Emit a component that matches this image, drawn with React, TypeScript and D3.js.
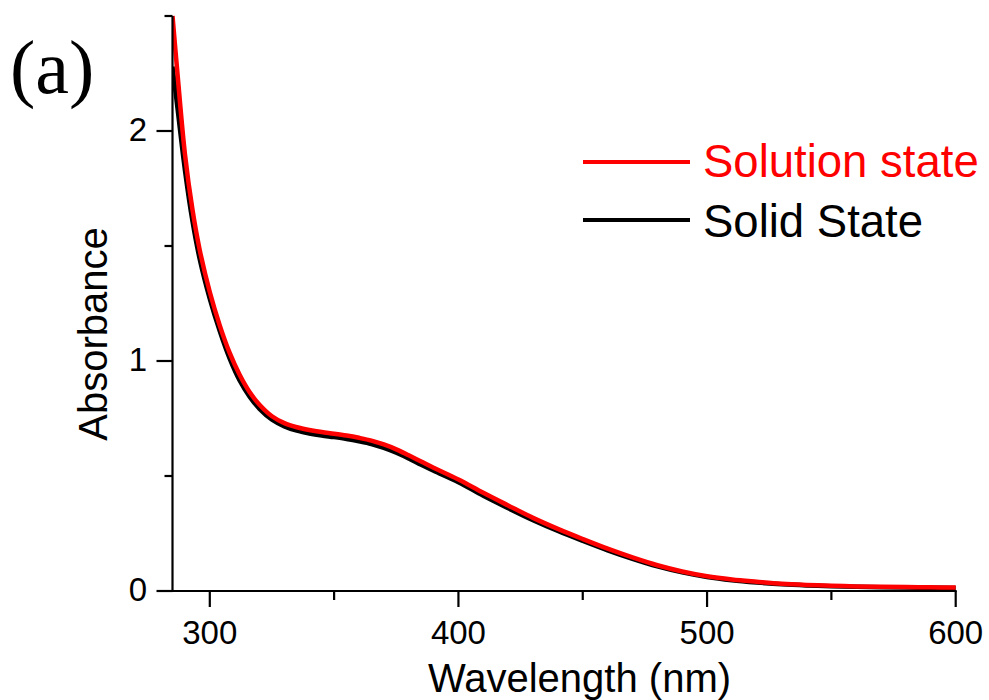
import React from "react";
import * as d3 from "d3";

const wavelengths = [285, 287, 290, 293, 296, 300, 304, 308, 312, 316, 320, 325, 330, 335, 340, 345, 350, 355, 360, 365, 370, 375, 380, 385, 390, 400, 410, 420, 430, 440, 450, 460, 470, 480, 490, 500, 510, 520, 530, 540, 550, 560, 570, 580, 590, 600];

const solutionState = [2.5, 2.25, 1.9, 1.66, 1.48, 1.3, 1.155, 1.035, 0.94, 0.865, 0.81, 0.76, 0.73, 0.712, 0.7, 0.691, 0.684, 0.676, 0.666, 0.654, 0.637, 0.616, 0.59, 0.563, 0.536, 0.485, 0.427, 0.372, 0.318, 0.27, 0.226, 0.184, 0.146, 0.112, 0.085, 0.064, 0.05, 0.04, 0.031, 0.026, 0.023, 0.02, 0.018, 0.017, 0.016, 0.015];

const solidState = [2.28, 2.1, 1.83, 1.61, 1.44, 1.27, 1.13, 1.01, 0.915, 0.845, 0.792, 0.745, 0.716, 0.697, 0.685, 0.676, 0.669, 0.661, 0.651, 0.639, 0.622, 0.601, 0.576, 0.549, 0.523, 0.473, 0.414, 0.36, 0.308, 0.261, 0.218, 0.177, 0.14, 0.107, 0.081, 0.061, 0.047, 0.037, 0.029, 0.024, 0.021, 0.018, 0.016, 0.015, 0.014, 0.013];

const xMajorTicks = [300, 400, 500, 600];
const xMinorTicks = [350, 450, 550];
const yMajorTicks = [0, 1, 2];
const yMinorTicks = [0.5, 1.5, 2.5];

const seriesNames = ["Solution state", "Solid State"];
const seriesColors = ["#ff0000", "#000000"];

const FONT = "'Liberation Sans', Arial, sans-serif";

export default function App() {
  const W = 989;
  const H = 700;
  const left = 172.5;
  const right = 955.7;
  const top = 16;
  const bottom = 591;

  const x = d3.scaleLinear().domain([285, 600]).range([left, right]);
  const y = d3.scaleLinear().domain([0, 2.5]).range([bottom, top]);

  const line = d3
    .line<number>()
    .x((_, i) => x(wavelengths[i]))
    .y((d) => y(d))
    .curve(d3.curveCatmullRom.alpha(0.5));

  const solidPath = line(solidState) || "";
  const solutionPath = line(solutionState) || "";

  return (
    <svg
      width={W}
      height={H}
      style={{ position: "absolute", left: 0, top: 0, background: "#fff" }}
    >
      <defs>
        <clipPath id="plotClip">
          <rect x={left} y={top - 2} width={right - left + 4} height={bottom - top + 2} />
        </clipPath>
      </defs>

      {/* curves */}
      <g clipPath="url(#plotClip)">
        <path d={solidPath} fill="none" stroke={seriesColors[1]} strokeWidth={4.5} strokeLinejoin="round" />
        <path d={solutionPath} fill="none" stroke={seriesColors[0]} strokeWidth={4.5} strokeLinejoin="round" />
      </g>

      {/* axes */}
      <line x1={left} x2={left} y1={top} y2={bottom + 1} stroke="#000" strokeWidth={2.2} />
      <line x1={left - 1} x2={right + 1} y1={bottom} y2={bottom} stroke="#000" strokeWidth={2.2} />

      {xMajorTicks.map((t) => (
        <g key={"xM" + t}>
          <line x1={x(t)} x2={x(t)} y1={bottom} y2={bottom + 16} stroke="#000" strokeWidth={2.2} />
          <text x={x(t)} y={644} textAnchor="middle" fontFamily={FONT} fontSize={33} fill="#000">
            {t}
          </text>
        </g>
      ))}
      {xMinorTicks.map((t) => (
        <line key={"xm" + t} x1={x(t)} x2={x(t)} y1={bottom} y2={bottom + 9} stroke="#000" strokeWidth={2.2} />
      ))}

      {yMajorTicks.map((t) => (
        <g key={"yM" + t}>
          <line x1={left - 16} x2={left} y1={y(t)} y2={y(t)} stroke="#000" strokeWidth={2.2} />
          <text x={147} y={y(t) + 9.5} textAnchor="end" fontFamily={FONT} fontSize={33} fill="#000">
            {t}
          </text>
        </g>
      ))}
      {yMinorTicks.map((t) => (
        <line key={"ym" + t} x1={left - 8} x2={left} y1={y(t)} y2={y(t)} stroke="#000" strokeWidth={2.2} />
      ))}

      {/* axis titles */}
      <text x={579.5} y={692} textAnchor="middle" fontFamily={FONT} fontSize={40} fill="#000">
        Wavelength (nm)
      </text>
      <text
        transform={`translate(107, 334) rotate(-90)`}
        textAnchor="middle"
        fontFamily={FONT}
        fontSize={40}
        fill="#000"
      >
        Absorbance
      </text>

      {/* legend */}
      {seriesNames.map((name, i) => (
        <g key={name}>
          <line
            x1={583}
            x2={690}
            y1={162 + i * 58}
            y2={162 + i * 58}
            stroke={seriesColors[i]}
            strokeWidth={4}
          />
          <text x={703} y={177 + i * 60} fontFamily={FONT} fontSize={45.5} fill={seriesColors[i]}>
            {name}
          </text>
        </g>
      ))}

      {/* panel label */}
      <text x={10} y={93} fontFamily="'Liberation Serif', 'Times New Roman', serif" fontSize={76} fill="#000">
        (a)
      </text>
    </svg>
  );
}
